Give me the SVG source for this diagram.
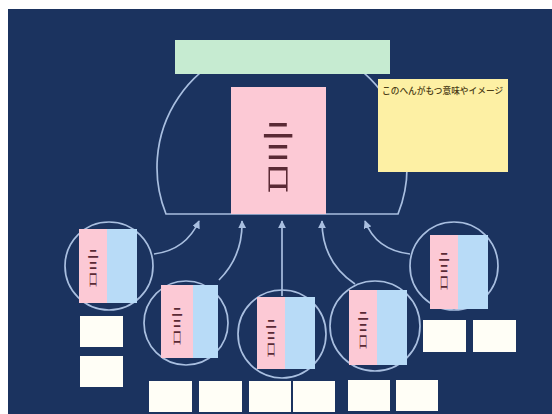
<svg xmlns="http://www.w3.org/2000/svg" width="552" height="414" viewBox="0 0 552 414">
<defs>
<style>
.line{fill:none;stroke:#a9bfe0;stroke-width:1.7}
.pink{fill:#fcc9d5}
.blue{fill:#b8dbf7}
.wbox{fill:#fffef6}
.kanji{font-family:"Noto Sans CJK JP","Noto Sans CJK SC",sans-serif;fill:#5a2a35;text-anchor:middle;dominant-baseline:central;font-weight:300}
.note{font-family:"Noto Sans CJK JP","Noto Sans CJK SC",sans-serif;font-size:8.7px;fill:#4a3c14;font-weight:500}
</style>
<marker id="ah" viewBox="0 0 10 10" refX="9" refY="5" markerWidth="8" markerHeight="8" orient="auto" markerUnits="userSpaceOnUse">
<path d="M0,0 L10,5 L0,10 Z" fill="#a9bfe0"/>
</marker>
</defs>
<rect x="0" y="0" width="552" height="414" fill="#ffffff"/>
<rect x="8" y="9" width="544" height="405" fill="#1b335f"/>

<g id="dome">
<path class="line" d="M166,214 A125,125 0 1 1 398,214 Z"/>
</g>

<g id="title-box">
<rect x="175" y="40" width="215" height="34" fill="#c6ebd1"/>
</g>

<g id="main-card">
<rect class="pink" x="231" y="87" width="95" height="127"/>
<text class="kanji" font-size="40" transform="translate(278,150) scale(0.8,2)">言</text>
</g>

<g id="note">
<rect x="378" y="79" width="130" height="93" fill="#fdf0a4"/>
<text class="note" x="382" y="94">このへんがもつ意味やイメージ</text>
</g>

<g id="connectors">
<path class="line" d="M154,254 Q186,250 199,221" marker-end="url(#ah)"/>
<path class="line" d="M219,280 Q243,256 242,221" marker-end="url(#ah)"/>
<path class="line" d="M282,296 L282,221" marker-end="url(#ah)"/>
<path class="line" d="M355,284 Q322,262 322,221" marker-end="url(#ah)"/>
<path class="line" d="M410,254 Q376,250 365,221" marker-end="url(#ah)"/>
</g>

<g id="node1">
<circle class="line" cx="109" cy="266" r="44"/>
<rect class="pink" x="79" y="229" width="28" height="74"/>
<rect class="blue" x="107" y="229" width="30" height="74"/>
<text class="kanji" font-size="14" transform="translate(93,265) scale(0.8,3)">言</text>
<rect class="wbox" x="80" y="316" width="43" height="31"/>
<rect class="wbox" x="80" y="356" width="43" height="31"/>
</g>

<g id="node2">
<circle class="line" cx="186" cy="323" r="42"/>
<rect class="pink" x="161" y="285" width="32" height="73"/>
<rect class="blue" x="193" y="285" width="25" height="73"/>
<text class="kanji" font-size="14" transform="translate(177,323) scale(0.8,3)">言</text>
<rect class="wbox" x="149" y="381" width="43" height="31"/>
<rect class="wbox" x="199" y="381" width="43" height="31"/>
</g>

<g id="node3">
<circle class="line" cx="282" cy="334" r="44"/>
<rect class="pink" x="257" y="297" width="28" height="72"/>
<rect class="blue" x="285" y="297" width="30" height="72"/>
<text class="kanji" font-size="14" transform="translate(271,335) scale(0.8,3)">言</text>
<rect class="wbox" x="249" y="381" width="42" height="31"/>
<rect class="wbox" x="293" y="381" width="42" height="31"/>
</g>

<g id="node4">
<circle class="line" cx="375" cy="326" r="45"/>
<rect class="pink" x="349" y="290" width="28" height="75"/>
<rect class="blue" x="377" y="290" width="30" height="75"/>
<text class="kanji" font-size="14" transform="translate(363,327) scale(0.8,3)">言</text>
<rect class="wbox" x="348" y="380" width="42" height="31"/>
<rect class="wbox" x="396" y="380" width="42" height="31"/>
</g>

<g id="node5">
<circle class="line" cx="454" cy="266" r="44"/>
<rect class="pink" x="430" y="235" width="28" height="74"/>
<rect class="blue" x="458" y="235" width="30" height="74"/>
<text class="kanji" font-size="14" transform="translate(444,268) scale(0.8,3)">言</text>
<rect class="wbox" x="423" y="320" width="43" height="32"/>
<rect class="wbox" x="473" y="320" width="43" height="32"/>
</g>
</svg>
